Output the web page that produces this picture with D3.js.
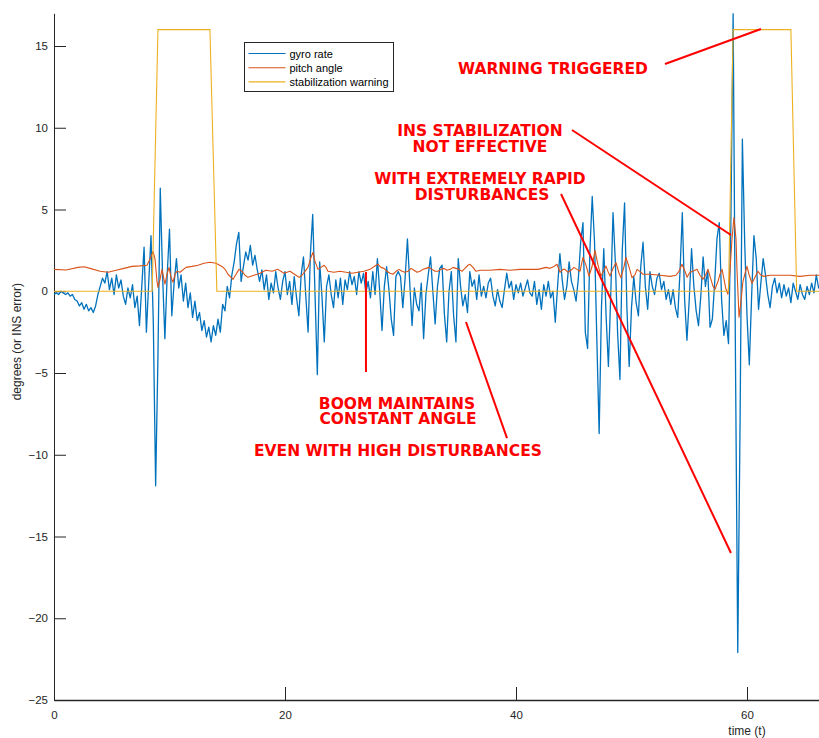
<!DOCTYPE html>
<html>
<head>
<meta charset="utf-8">
<script src="https://cdn.jsdelivr.net/npm/d3@7/dist/d3.min.js"></script>
<style>
html, body { margin: 0; padding: 0; background: #fff; }
svg { display: block; font-family: "Liberation Sans", Arial, Helvetica, sans-serif; }
</style>
</head>
<body>
<svg id="chart" width="819" height="738"></svg>
<script>
// gyro rate, sampled every 0.2 s from t = 0
const gyroStep = 0.2;
const gyroRate = [
  -0.2, -0.1, -0.2, 0.0, -0.1, -0.2, -0.1, -0.3, -0.2, -0.5,
  -0.6, -0.9, -0.7, -1.1, -0.8, -1.2, -1.0, -1.3, -0.9, -0.2,
  0.3, 0.8, 0.5, 1.2, 0.1, 0.8, -0.2, 1.0, 0.2, 0.7,
  -0.3, -0.8, 0.2, -0.4, 0.4, -1.0, -0.3, -2.1, 0.3, 2.7,
  -2.5, 0.5, 3.4, -2.0, -11.9, -4.0, 6.3, 1.0, -2.9, 1.0,
  3.8, -1.5, 0.5, 2.0, 0.2, 1.0, -0.6, 0.5, -1.0, -0.1,
  -1.6, -0.6, -1.8, -1.3, -2.4, -1.8, -2.8, -2.2, -3.1, -2.1,
  -2.7, -1.7, -2.5, -0.8, -1.2, 0.3, -0.4, 1.0, 1.8, 2.9,
  3.6, 0.6, 1.5, 2.4, 1.9, 2.8, 1.6, 2.2, 1.3, 0.6,
  1.3, 0.1, 1.0, -0.5, 0.5, -0.1, 1.2, 0.2, -0.5, 0.6,
  1.2, -0.2, 0.6, -0.8, 0.9, -0.4, -1.5, 1.0, 2.1, -0.3,
  -2.5, 2.3, 4.7, -0.2, -5.1, 1.8, -0.3, -3.1, 0.3, 1.0,
  -0.2, -1.0, 0.7, -0.4, 0.8, -0.8, 0.7, 0.1, 1.2, 0.4,
  0.9, -0.2, 1.2, 0.5, 1.1, -0.1, 0.6, -0.4, 1.2, -0.2,
  2.0, 0.0, -2.4, 0.3, 1.5, 0.1, -1.7, -2.7, 0.9, 1.2,
  0.9, -1.0, 0.8, 3.2, 0.5, -2.1, 0.2, -0.8, -1.2, 0.5,
  -2.9, -0.2, 1.0, 2.1, 0.0, -2.0, 0.3, 1.4, 1.6, -1.4,
  -3.1, 0.0, 1.2, -1.5, -3.1, 2.0, 0.3, -0.9, -0.2, -1.3,
  1.2, 0.3, 0.7, -0.5, 1.0, -0.3, 0.3, -0.4, 0.5, 0.8,
  -0.3, -0.9, 0.1, -0.6, -1.0, 0.1, 1.1, 0.2, 0.6, -0.5,
  0.4, -0.1, 0.5, -0.3, 0.2, 0.7, -0.1, -0.3, 0.6, -0.8,
  0.1, -1.1, 0.4, -0.3, 0.6, -0.4, 0.0, -1.9, 0.3, 2.3,
  0.7, -0.5, 0.3, 1.8, 0.6, 0.1, -0.6, 0.8, 3.0, 4.2,
  -2.5, -3.5, 2.5, 5.8, 3.0, -3.0, -8.7, -1.0, 2.6, -1.5,
  -4.6, -0.3, 4.8, 1.8, -2.6, -5.4, 2.5, 5.4, -1.0, -4.6,
  -1.0, 0.9, -0.7, -1.5, 1.5, 3.0, 0.3, -1.1, 1.2, 0.3,
  -0.2, 0.8, 1.1, 0.1, 0.6, -0.5, 0.1, -0.8, 0.1, -1.0,
  -1.6, 1.2, 4.8, -0.5, -3.0, -0.5, 2.6, 0.3, -1.2, -2.1,
  -0.3, 2.1, 0.3, 1.3, -2.2, -1.7, 0.5, 3.2, 4.2, -0.5,
  -2.7, -1.8, -3.2, 4.0, 17.0, -4.0, -22.1, -8.0, 9.3, 3.0,
  -1.5, -4.5, -0.3, 3.4, 2.0, -1.1, 0.5, 2.0, 1.0, -0.2,
  -1.0, 0.3, 0.8, -0.1, 0.5, -0.4, 0.4, -0.3, 0.2, -0.7,
  0.5, 0.0, -0.5, 0.4, -0.2, -0.5, 0.3, -0.2, 0.5, -0.1,
  1.0, 0.2, 0.4
];

const pitchTime = [
  0, 1.04, 2.08, 2.6, 3.12, 3.98, 4.68, 5.37, 6.06, 6.75, 7.45, 8.05, 8.31, 8.57, 8.74, 8.92,
  9.0, 9.18, 9.35, 9.52, 9.61, 9.78, 9.96, 10.13, 10.3, 10.48, 10.65, 10.91, 11.43, 11.95, 12.47,
  12.99, 13.51, 14.03, 14.55, 14.81, 15.06, 15.32, 15.5, 15.76, 16.02, 16.28, 16.54, 16.8, 17.32,
  17.84, 18.35, 18.87, 19.39, 19.91, 20.43, 20.95, 21.21, 21.47, 21.73, 21.99, 22.25, 22.42, 22.6,
  22.86, 23.12, 23.38, 23.55, 23.72, 24.24, 24.76, 25.28, 25.8, 26.32, 26.84, 27.36, 27.88, 28.05,
  28.31, 28.57, 28.83, 29.09, 29.35, 29.61, 29.87, 30.13, 30.39, 30.65, 30.91, 31.17, 31.43, 31.69,
  31.95, 32.21, 32.47, 32.73, 32.99, 33.25, 33.51, 33.77, 34.03, 34.29, 34.55, 34.81, 35.06, 35.32,
  35.58, 35.84, 36.02, 36.28, 36.54, 36.88, 37.75, 38.61, 39.48, 40.35, 41.21, 41.9, 42.25, 42.6,
  42.94, 43.29, 43.55, 43.81, 44.07, 44.24, 44.5, 44.76, 45.02, 45.28, 45.54, 45.8, 46.06, 46.32,
  46.58, 46.84, 47.1, 47.36, 47.62, 47.79, 47.97, 48.14, 48.4, 48.66, 48.92, 49.09, 49.35, 49.52,
  49.78, 50.04, 50.3, 50.48, 50.74, 51.0, 51.6, 52.47, 53.33, 53.85, 54.11, 54.37, 54.63, 54.81,
  55.06, 55.32, 55.67, 55.93, 56.19, 56.45, 56.62, 56.88, 57.06, 57.23, 57.49, 57.66, 57.84, 58.01,
  58.18, 58.35, 58.53, 58.7, 58.87, 59.05, 59.13, 59.31, 59.48, 59.65, 59.83, 60.0, 60.17, 60.43,
  60.69, 60.95, 61.21, 61.47, 61.99, 62.86, 63.72, 64.59, 65.45, 66.3
];
const pitchAngle = [
  1.34, 1.30, 1.46, 1.5, 1.40, 1.22, 1.16, 1.28, 1.40, 1.52, 1.55, 1.59, 1.95, 2.44, 2.0, 0.6,
  0.24, 0.73, 1.34, 0.73, 0.43, 1.04, 1.46, 0.85, 0.55, 1.04, 1.22, 1.16, 1.46, 1.52, 1.59,
  1.71, 1.77, 1.71, 1.52, 1.34, 1.04, 0.85, 0.73, 1.04, 1.34, 1.22, 0.98, 0.85, 0.98,
  1.10, 1.28, 1.22, 1.34, 1.10, 1.22, 0.98, 0.85, 0.98, 1.22, 1.46, 2.07, 2.38, 1.83,
  1.34, 1.46, 1.59, 1.46, 1.22, 1.16, 1.22, 1.16, 1.10, 1.16, 1.22, 1.34, 1.59, 1.65,
  1.46, 1.40, 1.22, 1.10, 1.04, 1.22, 1.34, 1.22, 1.16, 1.22, 1.40, 1.28, 1.16, 1.22,
  1.34, 1.40, 1.46, 1.34, 1.22, 1.22, 1.34, 1.40, 1.28, 1.34, 1.46, 1.40, 1.34, 1.22,
  1.40, 1.59, 1.65, 1.46, 1.22, 1.28, 1.28, 1.34, 1.28, 1.34, 1.34, 1.34, 1.40, 1.46,
  1.40, 1.52, 1.65, 1.16, 1.34, 1.34, 1.16, 1.28, 1.46, 1.34, 1.22, 2.07, 1.6, 0.93,
  1.5, 2.5, 1.6, 0.93, 1.3, 1.54, 1.2, 0.93, 1.4, 1.75, 1.1, 0.83, 1.5, 2.07,
  1.5, 0.83, 1.0, 1.34, 1.2, 1.04, 1.04, 0.98, 0.91, 0.98, 1.22, 1.65, 1.22, 0.85,
  1.16, 1.22, 1.34, 0.98, 0.73, 1.04, 1.34, 0.73, 0.30, 0.12, 0.61, 1.04, 1.34, 0.73,
  0.12, -0.18, 1.34, 3.17, 4.51, 3.17, 1.34, -1.59, -0.6, 0.61, 1.10, 1.52, 1.04, 0.49,
  0.85, 1.22, 0.98, 0.91, 0.98, 0.98, 0.98, 0.91, 0.98, 0.98
];

const warnTime = [0, 8.5, 9.0, 13.5, 14.1, 58.4, 58.8, 63.8, 64.3, 66.5];
const warnLevel = [0, 0, 16, 16, 0, 0, 16, 16, 0, 0];

const xTicks = [0, 20, 40, 60];
const yTicks = [-25, -20, -15, -10, -5, 0, 5, 10, 15];
const seriesNames = ["gyro rate", "pitch angle", "stabilization warning"];
const seriesColors = ["#0072BD", "#D95319", "#EDB120"];

// annotation text, anchored in data units (t, value)
const noteLines = [
  { text: "WARNING TRIGGERED", t: 43.2, v: 13.29 },
  { text: "INS STABILIZATION", t: 36.88, v: 9.5 },
  { text: "NOT EFFECTIVE", t: 36.88, v: 8.52 },
  { text: "WITH EXTREMELY RAPID", t: 36.88, v: 6.56 },
  { text: "DISTURBANCES", t: 37.06, v: 5.58 },
  { text: "BOOM MAINTAINS", t: 29.7, v: -7.2 },
  { text: "CONSTANT ANGLE", t: 29.78, v: -8.12 },
  { text: "EVEN WITH HIGH DISTURBANCES", t: 29.78, v: -10.08 }
];
const pointers = [
  { t1: 52.9, v1: 13.9, t2: 61.21, v2: 16.04 },
  { t1: 44.85, v1: 9.86, t2: 58.61, v2: 3.44 },
  { t1: 43.9, v1: 5.95, t2: 58.61, v2: -16.01 },
  { t1: 27.01, v1: 1.18, t2: 27.01, v2: -4.94 },
  { t1: 35.67, v1: -1.88, t2: 39.22, v2: -8.98 }
];

const svg = d3.select("#chart");
const W = 819, H = 738;
const plotLeft = 54, plotBottom = 700, plotTop = 13.3;

svg.append("rect").attr("width", W).attr("height", H).attr("fill", "#fff");

const x = d3.scaleLinear().domain([0, 70]).range([plotLeft, plotLeft + 70 * 11.55]);
const y = d3.scaleLinear().domain([-25, 17]).range([plotBottom, plotTop]);

svg.append("defs").append("clipPath").attr("id", "plotclip")
  .append("rect")
  .attr("x", plotLeft).attr("y", plotTop)
  .attr("width", W - plotLeft).attr("height", plotBottom - plotTop);

// axes
const yAxis = svg.append("g")
  .attr("transform", `translate(${plotLeft},0)`)
  .call(d3.axisLeft(y).tickValues(yTicks).tickSize(-12).tickSizeOuter(0).tickPadding(6));
const xAxis = svg.append("g")
  .attr("transform", `translate(0,${plotBottom})`)
  .call(d3.axisBottom(x).tickValues(xTicks).tickSize(-13).tickSizeOuter(0).tickPadding(11));

[yAxis, xAxis].forEach(ax => {
  ax.select(".domain").attr("stroke", "#262626").attr("stroke-width", 1);
  ax.selectAll(".tick line").attr("stroke", "#262626").attr("stroke-width", 1);
  ax.selectAll(".tick text").attr("fill", "#262626")
    .attr("font-size", "11.5px")
    .attr("font-family", "'Liberation Sans', Arial, sans-serif");
});
xAxis.select(".domain").attr("stroke-width", 1.5);

svg.append("text")
  .attr("x", x(60)).attr("y", 735)
  .attr("text-anchor", "middle")
  .attr("fill", "#262626")
  .attr("font-size", "12px")
  .text("time (t)");

svg.append("text")
  .attr("transform", `translate(21,${(plotTop + plotBottom) / 2 - 15}) rotate(-90)`)
  .attr("text-anchor", "middle")
  .attr("fill", "#262626")
  .attr("font-size", "12px")
  .text("degrees (or INS error)");

// series
const plot = svg.append("g").attr("clip-path", "url(#plotclip)");
const line = d3.line().x(d => x(d[0])).y(d => y(d[1]));

const warnData = warnTime.map((t, i) => [t, warnLevel[i]]);
const pitchData = pitchTime.map((t, i) => [t, pitchAngle[i]]);
const gyroData = gyroRate.map((v, i) => [i * gyroStep, v]);

plot.append("path").datum(gyroData)
  .attr("d", line).attr("fill", "none")
  .attr("stroke", seriesColors[0]).attr("stroke-width", 1.3)
  .attr("stroke-linejoin", "round");
plot.append("path").datum(pitchData)
  .attr("d", line).attr("fill", "none")
  .attr("stroke", seriesColors[1]).attr("stroke-width", 1.1)
  .attr("stroke-linejoin", "round");
plot.append("path").datum(warnData)
  .attr("d", line).attr("fill", "none")
  .attr("stroke", seriesColors[2]).attr("stroke-width", 1.1);

// legend
const lg = svg.append("g").attr("transform", "translate(244.5,42.5)");
lg.append("rect").attr("width", 149).attr("height", 49)
  .attr("fill", "#fff").attr("stroke", "#262626").attr("stroke-width", 1);
seriesNames.forEach((name, i) => {
  const ry = 11 + i * 14.2;
  lg.append("line").attr("x1", 4).attr("x2", 41).attr("y1", ry).attr("y2", ry)
    .attr("stroke", seriesColors[i]).attr("stroke-width", 1.1);
  lg.append("text").attr("x", 45).attr("y", ry + 4)
    .attr("font-size", "11px").attr("fill", "#000").text(name);
});

// annotations
const notes = svg.append("g");
pointers.forEach(p => {
  notes.append("line")
    .attr("x1", x(p.t1)).attr("y1", y(p.v1))
    .attr("x2", x(p.t2)).attr("y2", y(p.v2))
    .attr("stroke", "#ff0000").attr("stroke-width", 2);
});
noteLines.forEach(n => {
  notes.append("text")
    .attr("x", x(n.t)).attr("y", y(n.v))
    .attr("text-anchor", "middle")
    .attr("fill", "#ff0000")
    .attr("font-family", "'DejaVu Sans', sans-serif")
    .attr("font-weight", "bold")
    .attr("font-size", "15.5px")
    .text(n.text);
});
</script>
</body>
</html>
